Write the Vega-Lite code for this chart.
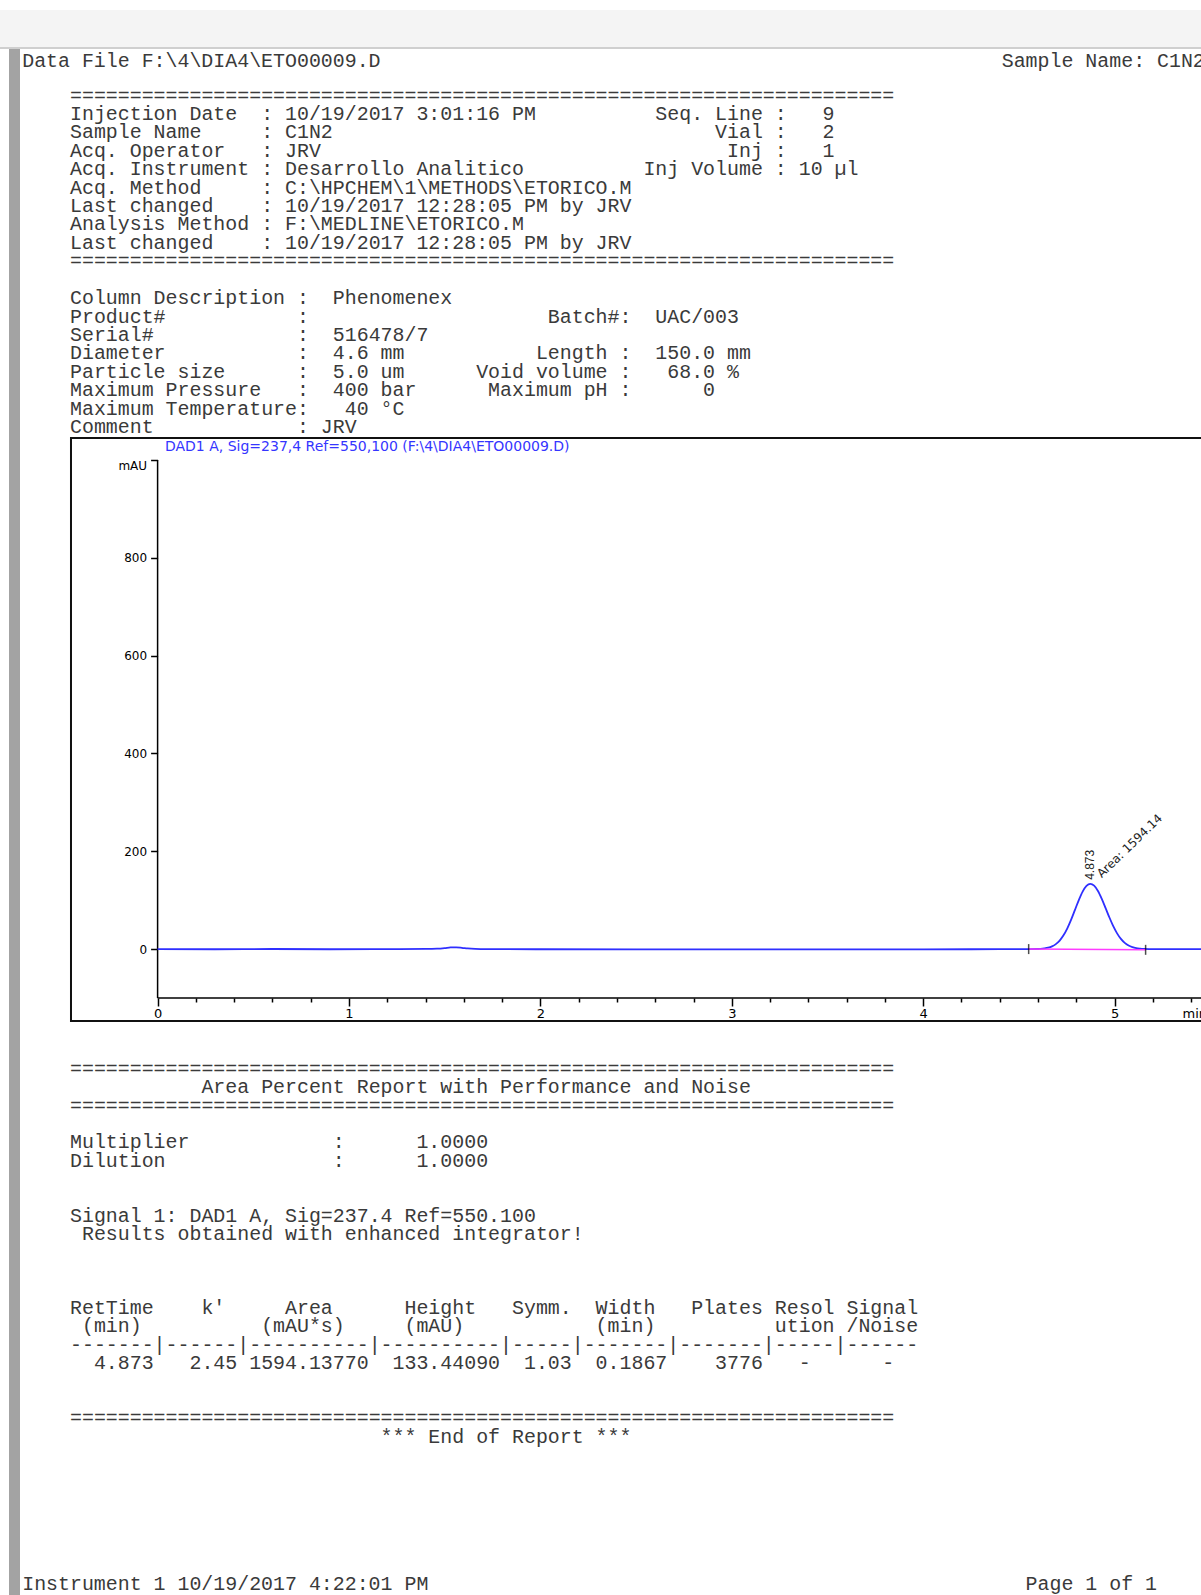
{
  "$schema": "https://vega.github.io/schema/vega-lite/v6.json",
  "padding": 0,
  "background": "white",
  "config": {
    "view": {"stroke": null},
    "concat": {"spacing": 0},
    "axis": {"labelFont": "DejaVu Sans"}
  },
  "datasets": {
    "hdr": [
      {"text": "Data\u00a0File\u00a0F:\\4\\DIA4\\ETO00009.D\u00a0\u00a0\u00a0\u00a0\u00a0\u00a0\u00a0\u00a0\u00a0\u00a0\u00a0\u00a0\u00a0\u00a0\u00a0\u00a0\u00a0\u00a0\u00a0\u00a0\u00a0\u00a0\u00a0\u00a0\u00a0\u00a0\u00a0\u00a0\u00a0\u00a0\u00a0\u00a0\u00a0\u00a0\u00a0\u00a0\u00a0\u00a0\u00a0\u00a0\u00a0\u00a0\u00a0\u00a0\u00a0\u00a0\u00a0\u00a0\u00a0\u00a0\u00a0\u00a0Sample\u00a0Name:\u00a0C1N2"}
    ],
    "upper": [
      {"line": 0, "text": "====================================================================="},
      {"line": 1, "text": "Injection\u00a0Date\u00a0\u00a0:\u00a010/19/2017\u00a03:01:16\u00a0PM\u00a0\u00a0\u00a0\u00a0\u00a0\u00a0\u00a0\u00a0\u00a0\u00a0Seq.\u00a0Line\u00a0:\u00a0\u00a0\u00a09"},
      {"line": 2, "text": "Sample\u00a0Name\u00a0\u00a0\u00a0\u00a0\u00a0:\u00a0C1N2\u00a0\u00a0\u00a0\u00a0\u00a0\u00a0\u00a0\u00a0\u00a0\u00a0\u00a0\u00a0\u00a0\u00a0\u00a0\u00a0\u00a0\u00a0\u00a0\u00a0\u00a0\u00a0\u00a0\u00a0\u00a0\u00a0\u00a0\u00a0\u00a0\u00a0\u00a0\u00a0Vial\u00a0:\u00a0\u00a0\u00a02"},
      {"line": 3, "text": "Acq.\u00a0Operator\u00a0\u00a0\u00a0:\u00a0JRV\u00a0\u00a0\u00a0\u00a0\u00a0\u00a0\u00a0\u00a0\u00a0\u00a0\u00a0\u00a0\u00a0\u00a0\u00a0\u00a0\u00a0\u00a0\u00a0\u00a0\u00a0\u00a0\u00a0\u00a0\u00a0\u00a0\u00a0\u00a0\u00a0\u00a0\u00a0\u00a0\u00a0\u00a0Inj\u00a0:\u00a0\u00a0\u00a01"},
      {"line": 4, "text": "Acq.\u00a0Instrument\u00a0:\u00a0Desarrollo\u00a0Analitico\u00a0\u00a0\u00a0\u00a0\u00a0\u00a0\u00a0\u00a0\u00a0\u00a0Inj\u00a0Volume\u00a0:\u00a010\u00a0\u00b5l"},
      {"line": 5, "text": "Acq.\u00a0Method\u00a0\u00a0\u00a0\u00a0\u00a0:\u00a0C:\\HPCHEM\\1\\METHODS\\ETORICO.M"},
      {"line": 6, "text": "Last\u00a0changed\u00a0\u00a0\u00a0\u00a0:\u00a010/19/2017\u00a012:28:05\u00a0PM\u00a0by\u00a0JRV"},
      {"line": 7, "text": "Analysis\u00a0Method\u00a0:\u00a0F:\\MEDLINE\\ETORICO.M"},
      {"line": 8, "text": "Last\u00a0changed\u00a0\u00a0\u00a0\u00a0:\u00a010/19/2017\u00a012:28:05\u00a0PM\u00a0by\u00a0JRV"},
      {"line": 9, "text": "====================================================================="},
      {"line": 11, "text": "Column\u00a0Description\u00a0:\u00a0\u00a0Phenomenex"},
      {"line": 12, "text": "Product#\u00a0\u00a0\u00a0\u00a0\u00a0\u00a0\u00a0\u00a0\u00a0\u00a0\u00a0:\u00a0\u00a0\u00a0\u00a0\u00a0\u00a0\u00a0\u00a0\u00a0\u00a0\u00a0\u00a0\u00a0\u00a0\u00a0\u00a0\u00a0\u00a0\u00a0\u00a0Batch#:\u00a0\u00a0UAC/003"},
      {"line": 13, "text": "Serial#\u00a0\u00a0\u00a0\u00a0\u00a0\u00a0\u00a0\u00a0\u00a0\u00a0\u00a0\u00a0:\u00a0\u00a0516478/7"},
      {"line": 14, "text": "Diameter\u00a0\u00a0\u00a0\u00a0\u00a0\u00a0\u00a0\u00a0\u00a0\u00a0\u00a0:\u00a0\u00a04.6\u00a0mm\u00a0\u00a0\u00a0\u00a0\u00a0\u00a0\u00a0\u00a0\u00a0\u00a0\u00a0Length\u00a0:\u00a0\u00a0150.0\u00a0mm"},
      {"line": 15, "text": "Particle\u00a0size\u00a0\u00a0\u00a0\u00a0\u00a0\u00a0:\u00a0\u00a05.0\u00a0um\u00a0\u00a0\u00a0\u00a0\u00a0\u00a0Void\u00a0volume\u00a0:\u00a0\u00a0\u00a068.0\u00a0%"},
      {"line": 16, "text": "Maximum\u00a0Pressure\u00a0\u00a0\u00a0:\u00a0\u00a0400\u00a0bar\u00a0\u00a0\u00a0\u00a0\u00a0\u00a0Maximum\u00a0pH\u00a0:\u00a0\u00a0\u00a0\u00a0\u00a0\u00a00"},
      {"line": 17, "text": "Maximum\u00a0Temperature:\u00a0\u00a0\u00a040\u00a0\u00b0C"},
      {"line": 18, "text": "Comment\u00a0\u00a0\u00a0\u00a0\u00a0\u00a0\u00a0\u00a0\u00a0\u00a0\u00a0\u00a0:\u00a0JRV"}
    ],
    "lower": [
      {"line": 0, "text": "====================================================================="},
      {"line": 1, "text": "\u200b\u00a0\u00a0\u00a0\u00a0\u00a0\u00a0\u00a0\u00a0\u00a0\u00a0\u00a0Area\u00a0Percent\u00a0Report\u00a0with\u00a0Performance\u00a0and\u00a0Noise"},
      {"line": 2, "text": "====================================================================="},
      {"line": 4, "text": "Multiplier\u00a0\u00a0\u00a0\u00a0\u00a0\u00a0\u00a0\u00a0\u00a0\u00a0\u00a0\u00a0:\u00a0\u00a0\u00a0\u00a0\u00a0\u00a01.0000"},
      {"line": 5, "text": "Dilution\u00a0\u00a0\u00a0\u00a0\u00a0\u00a0\u00a0\u00a0\u00a0\u00a0\u00a0\u00a0\u00a0\u00a0:\u00a0\u00a0\u00a0\u00a0\u00a0\u00a01.0000"},
      {"line": 8, "text": "Signal\u00a01:\u00a0DAD1\u00a0A,\u00a0Sig=237.4\u00a0Ref=550.100"},
      {"line": 9, "text": "\u200b\u00a0Results\u00a0obtained\u00a0with\u00a0enhanced\u00a0integrator!"},
      {"line": 13, "text": "RetTime\u00a0\u00a0\u00a0\u00a0k'\u00a0\u00a0\u00a0\u00a0\u00a0Area\u00a0\u00a0\u00a0\u00a0\u00a0\u00a0Height\u00a0\u00a0\u00a0Symm.\u00a0\u00a0Width\u00a0\u00a0\u00a0Plates\u00a0Resol\u00a0Signal"},
      {"line": 14, "text": "\u200b\u00a0(min)\u00a0\u00a0\u00a0\u00a0\u00a0\u00a0\u00a0\u00a0\u00a0\u00a0(mAU*s)\u00a0\u00a0\u00a0\u00a0\u00a0(mAU)\u00a0\u00a0\u00a0\u00a0\u00a0\u00a0\u00a0\u00a0\u00a0\u00a0\u00a0(min)\u00a0\u00a0\u00a0\u00a0\u00a0\u00a0\u00a0\u00a0\u00a0\u00a0ution\u00a0/Noise"},
      {"line": 15, "text": "-------|------|----------|----------|-----|-------|-------|-----|------"},
      {"line": 16, "text": "\u200b\u00a0\u00a04.873\u00a0\u00a0\u00a02.45\u00a01594.13770\u00a0\u00a0133.44090\u00a0\u00a01.03\u00a0\u00a00.1867\u00a0\u00a0\u00a0\u00a03776\u00a0\u00a0\u00a0-\u00a0\u00a0\u00a0\u00a0\u00a0\u00a0-"},
      {"line": 19, "text": "====================================================================="},
      {"line": 20, "text": "\u200b\u00a0\u00a0\u00a0\u00a0\u00a0\u00a0\u00a0\u00a0\u00a0\u00a0\u00a0\u00a0\u00a0\u00a0\u00a0\u00a0\u00a0\u00a0\u00a0\u00a0\u00a0\u00a0\u00a0\u00a0\u00a0\u00a0***\u00a0End\u00a0of\u00a0Report\u00a0***"}
    ],
    "footer": [
      {"line": 28, "text": "Instrument\u00a01\u00a010/19/2017\u00a04:22:01\u00a0PM\u00a0\u00a0\u00a0\u00a0\u00a0\u00a0\u00a0\u00a0\u00a0\u00a0\u00a0\u00a0\u00a0\u00a0\u00a0\u00a0\u00a0\u00a0\u00a0\u00a0\u00a0\u00a0\u00a0\u00a0\u00a0\u00a0\u00a0\u00a0\u00a0\u00a0\u00a0\u00a0\u00a0\u00a0\u00a0\u00a0\u00a0\u00a0\u00a0\u00a0\u00a0\u00a0\u00a0\u00a0\u00a0\u00a0\u00a0\u00a0\u00a0\u00a0Page\u00a01\u00a0of\u00a01"}
    ],
    "trace": [
      {"t": 0, "mAU": 0}, {"t": 0.3, "mAU": -0.3}, {"t": 0.6, "mAU": 0.2}, {"t": 0.9, "mAU": -0.3},
      {"t": 1.2, "mAU": 0}, {"t": 1.4, "mAU": 0.3}, {"t": 1.46, "mAU": 0.8}, {"t": 1.5, "mAU": 2},
      {"t": 1.53, "mAU": 3.3}, {"t": 1.56, "mAU": 3.7}, {"t": 1.59, "mAU": 2.7}, {"t": 1.62, "mAU": 1.3},
      {"t": 1.66, "mAU": 0.4}, {"t": 1.72, "mAU": 0}, {"t": 2.0, "mAU": -0.3}, {"t": 2.5, "mAU": -0.5},
      {"t": 3.0, "mAU": -0.6}, {"t": 3.5, "mAU": -0.5}, {"t": 4.0, "mAU": -0.4}, {"t": 4.4, "mAU": -0.2},
      {"t": 4.55, "mAU": 0}, {"t": 4.593, "mAU": 0.2}, {"t": 4.613, "mAU": 0.6}, {"t": 4.633, "mAU": 1.4},
      {"t": 4.653, "mAU": 2.8}, {"t": 4.673, "mAU": 5.5}, {"t": 4.693, "mAU": 10.2}, {"t": 4.713, "mAU": 17.4},
      {"t": 4.733, "mAU": 28.1}, {"t": 4.753, "mAU": 42.5}, {"t": 4.773, "mAU": 60.2}, {"t": 4.793, "mAU": 80.2},
      {"t": 4.813, "mAU": 100.2}, {"t": 4.833, "mAU": 117.5}, {"t": 4.853, "mAU": 129.2}, {"t": 4.873, "mAU": 133.4},
      {"t": 4.893, "mAU": 129.6}, {"t": 4.913, "mAU": 118.8}, {"t": 4.933, "mAU": 102.7}, {"t": 4.953, "mAU": 83.8},
      {"t": 4.973, "mAU": 64.6}, {"t": 4.993, "mAU": 46.9}, {"t": 5.013, "mAU": 32.2}, {"t": 5.033, "mAU": 20.8},
      {"t": 5.053, "mAU": 12.7}, {"t": 5.073, "mAU": 7.3}, {"t": 5.093, "mAU": 4.0}, {"t": 5.113, "mAU": 2.0},
      {"t": 5.133, "mAU": 1.0}, {"t": 5.153, "mAU": 0.4}, {"t": 5.18, "mAU": 0.1}, {"t": 5.3, "mAU": 0},
      {"t": 5.6, "mAU": 0}
    ],
    "baseline": [{"t": 4.551, "mAU": 0}, {"t": 5.162, "mAU": -1.5}],
    "peak": [{"rt": 4.873, "height": 133.44, "rtLabel": "4.873", "areaLabel": "Area: 1594.14"}]
  },
  "spacing": 0,
  "vconcat": [
    {"width": 1201, "height": 10, "view": {"fill": "white", "stroke": null}, "data": {"values": [{}]}, "mark": {"type": "point", "size": 0, "strokeWidth": 0, "opacity": 0}},
    {"width": 1201, "height": 37, "view": {"fill": "#f4f4f4", "stroke": null}, "data": {"values": [{}]}, "mark": {"type": "point", "size": 0, "strokeWidth": 0, "opacity": 0}},
    {"width": 1201, "height": 2, "view": {"fill": "#cfcfcf", "stroke": null}, "data": {"values": [{}]}, "mark": {"type": "point", "size": 0, "strokeWidth": 0, "opacity": 0}},
    {
      "spacing": 0,
      "hconcat": [
        {"width": 9, "height": 1546, "view": {"fill": "white", "stroke": null}, "data": {"values": [{}]}, "mark": {"type": "point", "size": 0, "strokeWidth": 0, "opacity": 0}},
        {"width": 11, "height": 1546, "view": {"fill": "#a3a3a3", "stroke": null}, "data": {"values": [{}]}, "mark": {"type": "point", "size": 0, "strokeWidth": 0, "opacity": 0}},
        {
          "spacing": 0,
          "vconcat": [
            {
              "width": 1181, "height": 24,
              "view": {"fill": "white", "stroke": null},
              "data": {"name": "hdr"},
              "mark": {"type": "text", "align": "left", "baseline": "middle", "font": "Liberation Mono", "fontSize": 19.92, "color": "#3a3a3a", "clip": true},
              "encoding": {
                "x": {"datum": -4, "type": "quantitative", "scale": {"domain": [-4.1824, 94.605], "nice": false, "zero": false}, "axis": null},
                "text": {"field": "text"}
              }
            },
            {
              "width": 1181, "height": 364,
              "view": {"fill": "white", "stroke": null},
              "data": {"name": "upper"},
              "mark": {"type": "text", "align": "left", "baseline": "middle", "font": "Liberation Mono", "fontSize": 19.92, "color": "#3a3a3a", "clip": true},
              "encoding": {
                "x": {"datum": 0, "type": "quantitative", "scale": {"domain": [-4.1824, 94.605], "nice": false, "zero": false}, "axis": null},
                "y": {"field": "line", "type": "quantitative", "scale": {"domain": [-1.2215, 18.5396], "reverse": true, "nice": false, "zero": false}, "axis": null},
                "text": {"field": "text"}
              }
            },
            {
              "width": 1181, "height": 585,
              "view": {"fill": "white", "stroke": null},
              "resolve": {"axis": {"x": "independent", "y": "independent"}},
              "layer": [
                {
                  "data": {"values": [{"part": "frame"}]},
                  "mark": {"type": "rect", "filled": false, "color": "#111111", "stroke": "#111111", "strokeWidth": 2, "clip": true},
                  "encoding": {
                    "x": {"datum": -0.4525, "type": "quantitative", "scale": {"domain": [-0.7189, 5.4514], "nice": false, "zero": false}, "axis": null},
                    "x2": {"datum": 6},
                    "y": {"datum": 1045, "type": "quantitative", "scale": {"domain": [-149.07, 1047.03], "nice": false, "zero": false}, "axis": null},
                    "y2": {"datum": -147}
                  }
                },
                {
                  "data": {"values": [{"title": "DAD1 A, Sig=237,4 Ref=550,100 (F:\\4\\DIA4\\ETO00009.D)"}]},
                  "mark": {"type": "text", "align": "left", "baseline": "middle", "font": "DejaVu Sans", "fontSize": 14, "color": "#3535ff"},
                  "encoding": {
                    "x": {"datum": 0.0384, "type": "quantitative", "scale": {"domain": [-0.7189, 5.4514], "nice": false, "zero": false}, "axis": null},
                    "y": {"datum": 1027, "type": "quantitative", "scale": {"domain": [-149.07, 1047.03], "nice": false, "zero": false}, "axis": null},
                    "text": {"field": "title"}
                  }
                },
                {
                  "data": {"values": [{"part": "y axis line"}]},
                  "mark": {"type": "rule", "color": "black", "strokeWidth": 1.5},
                  "encoding": {
                    "x": {"datum": 0, "type": "quantitative", "scale": {"domain": [-0.7189, 5.4514], "nice": false, "zero": false}, "axis": null},
                    "y": {"datum": -100, "type": "quantitative", "scale": {"domain": [-149.07, 1047.03], "nice": false, "zero": false}, "axis": null},
                    "y2": {"datum": 1000}
                  }
                },
                {
                  "data": {"values": [{"part": "x axis line"}]},
                  "mark": {"type": "rule", "color": "black", "strokeWidth": 1.5, "clip": true},
                  "encoding": {
                    "x": {"datum": 0, "type": "quantitative", "scale": {"domain": [-0.7189, 5.4514], "nice": false, "zero": false}, "axis": null},
                    "x2": {"datum": 5.46},
                    "y": {"datum": -100, "type": "quantitative", "scale": {"domain": [-149.07, 1047.03], "nice": false, "zero": false}, "axis": null}
                  }
                },
                {
                  "data": {"name": "trace"},
                  "mark": {"type": "line", "color": "#2f2fff", "strokeWidth": 1.8, "clip": true, "interpolate": "monotone"},
                  "encoding": {
                    "x": {"field": "t", "type": "quantitative", "scale": {"domain": [-0.7189, 5.4514], "nice": false, "zero": false},
                      "axis": {"orient": "bottom", "offset": -24, "values": [0, 1, 2, 3, 4, 5], "domain": false, "grid": false, "tickSize": 8, "tickWidth": 1.5, "tickColor": "black", "labelColor": "black", "labelFontSize": 13, "labelPadding": 1, "labelFlush": false, "title": null}},
                    "y": {"field": "mAU", "type": "quantitative", "scale": {"domain": [-149.07, 1047.03], "nice": false, "zero": false},
                      "axis": {"orient": "left", "offset": -137.6, "values": [0, 200, 400, 600, 800, 1000], "labelExpr": "datum.value == 1000 ? 'mAU' : datum.label", "labelBaseline": {"condition": {"test": "datum.value == 1000", "value": "top"}, "value": "middle"}, "domain": false, "grid": false, "tickSize": 7, "tickWidth": 1.5, "tickColor": "black", "labelColor": "black", "labelFontSize": 12, "labelPadding": 4, "labelFlush": false, "title": null}}
                  }
                },
                {
                  "data": {"name": "trace"},
                  "mark": {"type": "point", "size": 0, "strokeWidth": 0, "opacity": 0},
                  "encoding": {
                    "x": {"field": "t", "type": "quantitative", "scale": {"domain": [-0.7189, 5.4514], "nice": false, "zero": false},
                      "axis": {"orient": "bottom", "offset": -24, "values": [0.2, 0.4, 0.6, 0.8, 1.2, 1.4, 1.6, 1.8, 2.2, 2.4, 2.6, 2.8, 3.2, 3.4, 3.6, 3.8, 4.2, 4.4, 4.6, 4.8, 5.2, 5.4], "labels": false, "domain": false, "grid": false, "tickSize": 4, "tickWidth": 1.5, "tickColor": "black", "title": null}},
                    "y": {"field": "mAU", "type": "quantitative", "scale": {"domain": [-149.07, 1047.03], "nice": false, "zero": false}, "axis": null}
                  }
                },
                {
                  "data": {"name": "baseline"},
                  "mark": {"type": "line", "color": "#ff3cff", "strokeWidth": 1.5},
                  "encoding": {
                    "x": {"field": "t", "type": "quantitative", "scale": {"domain": [-0.7189, 5.4514], "nice": false, "zero": false}, "axis": null},
                    "y": {"field": "mAU", "type": "quantitative", "scale": {"domain": [-149.07, 1047.03], "nice": false, "zero": false}, "axis": null}
                  }
                },
                {
                  "data": {"name": "baseline"},
                  "mark": {"type": "tick", "orient": "vertical", "color": "black", "size": 10, "thickness": 1.5},
                  "encoding": {
                    "x": {"field": "t", "type": "quantitative", "scale": {"domain": [-0.7189, 5.4514], "nice": false, "zero": false}, "axis": null},
                    "y": {"field": "mAU", "type": "quantitative", "scale": {"domain": [-149.07, 1047.03], "nice": false, "zero": false}, "axis": null}
                  }
                },
                {
                  "data": {"name": "peak"},
                  "mark": {"type": "text", "angle": 270, "align": "left", "baseline": "middle", "dx": 4, "font": "Liberation Sans", "fontSize": 12, "color": "#222222"},
                  "encoding": {
                    "x": {"field": "rt", "type": "quantitative", "scale": {"domain": [-0.7189, 5.4514], "nice": false, "zero": false}, "axis": null},
                    "y": {"field": "height", "type": "quantitative", "scale": {"domain": [-149.07, 1047.03], "nice": false, "zero": false}, "axis": null},
                    "text": {"field": "rtLabel"}
                  }
                },
                {
                  "data": {"name": "peak"},
                  "mark": {"type": "text", "angle": 316, "align": "left", "baseline": "middle", "dx": 12, "font": "DejaVu Sans", "fontSize": 12, "color": "#222222"},
                  "encoding": {
                    "x": {"field": "rt", "type": "quantitative", "scale": {"domain": [-0.7189, 5.4514], "nice": false, "zero": false}, "axis": null},
                    "y": {"field": "height", "type": "quantitative", "scale": {"domain": [-149.07, 1047.03], "nice": false, "zero": false}, "axis": null},
                    "text": {"field": "areaLabel"}
                  }
                },
                {
                  "data": {"values": [{"unit": "min"}]},
                  "mark": {"type": "text", "align": "left", "baseline": "middle", "font": "DejaVu Sans", "fontSize": 13, "color": "black", "clip": true},
                  "encoding": {
                    "x": {"datum": 5.355, "type": "quantitative", "scale": {"domain": [-0.7189, 5.4514], "nice": false, "zero": false}, "axis": null},
                    "y": {"datum": -133, "type": "quantitative", "scale": {"domain": [-149.07, 1047.03], "nice": false, "zero": false}, "axis": null},
                    "text": {"field": "unit"}
                  }
                }
              ]
            },
            {
              "width": 1181, "height": 573,
              "view": {"fill": "white", "stroke": null},
              "layer": [
                {
                  "data": {"name": "lower"},
                  "mark": {"type": "text", "align": "left", "baseline": "middle", "font": "Liberation Mono", "fontSize": 19.92, "color": "#3a3a3a", "clip": true},
                  "encoding": {
                    "x": {"datum": 0, "type": "quantitative", "scale": {"domain": [-4.1824, 94.605], "nice": false, "zero": false}, "axis": null},
                    "y": {"field": "line", "type": "quantitative", "scale": {"domain": [-2.5367, 28.588], "reverse": true, "nice": false, "zero": false}, "axis": null},
                    "text": {"field": "text"}
                  }
                },
                {
                  "data": {"name": "footer"},
                  "mark": {"type": "text", "align": "left", "baseline": "middle", "font": "Liberation Mono", "fontSize": 19.92, "color": "#3a3a3a", "clip": true},
                  "encoding": {
                    "x": {"datum": -4, "type": "quantitative", "scale": {"domain": [-4.1824, 94.605], "nice": false, "zero": false}, "axis": null},
                    "y": {"field": "line", "type": "quantitative", "scale": {"domain": [-2.5367, 28.588], "reverse": true, "nice": false, "zero": false}, "axis": null},
                    "text": {"field": "text"}
                  }
                }
              ]
            }
          ]
        }
      ]
    }
  ]
}
